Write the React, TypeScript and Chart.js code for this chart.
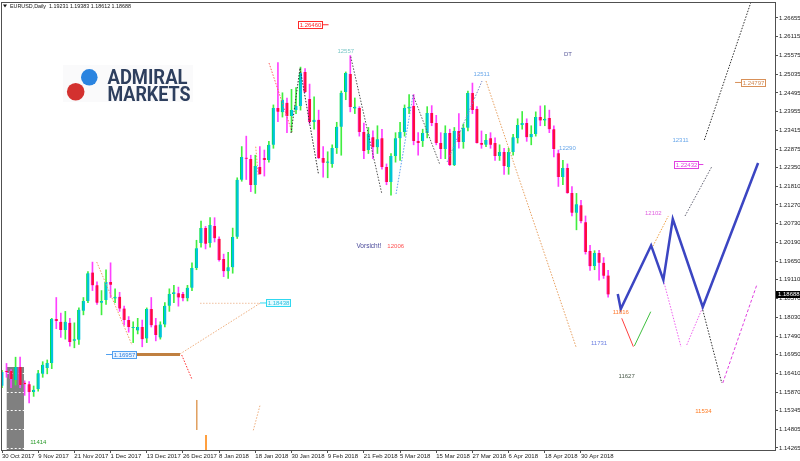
import React, { useEffect, useRef } from "react";
import { Chart, registerables } from "chart.js";

Chart.register(...registerables);

const FONT = '"Liberation Sans", Arial, sans-serif';

// ---------- axis data ----------
const dateTickIdx = [0, 8, 16, 24, 32, 40, 48, 56, 64, 72, 80, 88, 96, 104, 112, 120, 128];
const dateTickLabels = [
  "30 Oct 2017", "9 Nov 2017", "21 Nov 2017", "1 Dec 2017", "13 Dec 2017", "26 Dec 2017",
  "8 Jan 2018", "18 Jan 2018", "30 Jan 2018", "9 Feb 2018", "21 Feb 2018", "5 Mar 2018",
  "15 Mar 2018", "27 Mar 2018", "6 Apr 2018", "18 Apr 2018", "30 Apr 2018",
];
const priceTicks = [
  1.26655, 1.26115, 1.25575, 1.25035, 1.24495, 1.23955, 1.23415, 1.22875, 1.2235, 1.2181,
  1.2127, 1.2073, 1.2019, 1.1965, 1.1911, 1.1857, 1.1803, 1.1749, 1.1695, 1.1641, 1.1587,
  1.15345, 1.14805, 1.14265,
];
const priceTickLabels = [
  "1.26655", "1.26115", "1.25575", "1.25035", "1.24495", "1.23955", "1.23415", "1.22875",
  "1.22350", "1.21810", "1.21270", "1.20730", "1.20190", "1.19650", "1.19110", "1.18570",
  "1.18030", "1.17490", "1.16950", "1.16410", "1.15870", "1.15345", "1.14805", "1.14265",
];

// ---------- daily candles (30 Oct 2017 .. 8 May 2018) ----------
const openP = [
  1.1606, 1.1648, 1.1648, 1.1622, 1.1660, 1.1614, 1.1610, 1.1588, 1.1596, 1.1640,
  1.1657, 1.1671, 1.1798, 1.1790, 1.1766, 1.1787, 1.1735, 1.1738, 1.1822, 1.1850,
  1.1932, 1.1895, 1.1845, 1.1853, 1.1905, 1.1857, 1.1862, 1.1828, 1.1795, 1.1772,
  1.1765, 1.1775, 1.1742, 1.1827, 1.1780, 1.1745, 1.1782, 1.1836, 1.1870, 1.1872,
  1.1870, 1.1858, 1.1888, 1.1945, 1.2017, 1.2060, 1.2017, 1.2066, 1.2029, 1.1971,
  1.1936, 1.1947, 1.2035, 1.2199, 1.2262, 1.2259, 1.2184, 1.2236, 1.2262, 1.2256,
  1.2300, 1.2406, 1.2394, 1.2421, 1.2383, 1.2400, 1.2412, 1.2510, 1.2432, 1.2366,
  1.2372, 1.2262, 1.2248, 1.2245, 1.2291, 1.2352, 1.2452, 1.2504, 1.2405, 1.2406,
  1.2337, 1.2285, 1.2322, 1.2293, 1.2319, 1.2236, 1.2193, 1.2268, 1.2319, 1.2337,
  1.2405, 1.2412, 1.2311, 1.2311, 1.2334, 1.2392, 1.2363, 1.2305, 1.2288, 1.2334,
  1.2242, 1.2340, 1.2308, 1.2349, 1.2449, 1.2403, 1.2305, 1.2300, 1.2319, 1.2305,
  1.2268, 1.2279, 1.2236, 1.2279, 1.2319, 1.2357, 1.2363, 1.2322, 1.2331, 1.2380,
  1.2370, 1.2377, 1.2345, 1.2276, 1.2207, 1.2233, 1.2161, 1.2104, 1.2126, 1.2077,
  1.1994, 1.1951, 1.1988, 1.1960, 1.19231,
];
const highP = [
  1.1650, 1.1670, 1.1652, 1.1688, 1.1688, 1.1620, 1.1618, 1.1605, 1.1650, 1.1675,
  1.1680, 1.1800, 1.1860, 1.1815, 1.1820, 1.1800, 1.1787, 1.1830, 1.1860, 1.1935,
  1.1962, 1.1905, 1.1880, 1.1940, 1.1960, 1.1885, 1.1875, 1.1835, 1.1805, 1.1790,
  1.1800, 1.1795, 1.1830, 1.1860, 1.1800, 1.1790, 1.1845, 1.1885, 1.1895, 1.1890,
  1.1875, 1.1895, 1.1960, 1.2025, 1.2080, 1.2065, 1.2090, 1.2090, 1.2035, 1.1985,
  1.1990, 1.2060, 1.2205, 1.2295, 1.2325, 1.2270, 1.2270, 1.2295, 1.2285, 1.2310,
  1.2415, 1.2537, 1.2450, 1.2435, 1.2460, 1.2465, 1.2524, 1.2520, 1.2475, 1.2438,
  1.2400, 1.2295, 1.2280, 1.2300, 1.2365, 1.2455, 1.2510, 1.2557, 1.2435, 1.2410,
  1.2363, 1.2350, 1.2340, 1.2355, 1.2345, 1.2245, 1.2275, 1.2335, 1.2365, 1.2415,
  1.2445, 1.2445, 1.2335, 1.2345, 1.2410, 1.2413, 1.2385, 1.2335, 1.2355, 1.2345,
  1.2350, 1.2390, 1.2360, 1.2455, 1.2478, 1.2410, 1.2340, 1.2330, 1.2335, 1.2320,
  1.2300, 1.2290, 1.2290, 1.2330, 1.2375, 1.2396, 1.2375, 1.2355, 1.2395, 1.2412,
  1.2413, 1.2400, 1.2355, 1.2285, 1.2255, 1.2245, 1.2180, 1.2160, 1.2140, 1.2095,
  1.2010, 1.1995, 1.1996, 1.1975, 1.19383,
];
const lowP = [
  1.1600, 1.1630, 1.1600, 1.1608, 1.1600, 1.1578, 1.1556, 1.1575, 1.1590, 1.1630,
  1.1640, 1.1655, 1.1770, 1.1745, 1.1740, 1.1720, 1.1715, 1.1725, 1.1810, 1.1845,
  1.1880, 1.1840, 1.1810, 1.1840, 1.1860, 1.1845, 1.1820, 1.1780, 1.1760, 1.1730,
  1.1755, 1.1718, 1.1730, 1.1775, 1.1735, 1.1740, 1.1775, 1.1820, 1.1845, 1.1835,
  1.1850, 1.1850, 1.1880, 1.1940, 1.2005, 1.2000, 1.2005, 1.2020, 1.1965, 1.1920,
  1.1915, 1.1930, 1.2030, 1.2195, 1.2200, 1.2165, 1.2160, 1.2215, 1.2210, 1.2250,
  1.2290, 1.2367, 1.2380, 1.2335, 1.2337, 1.2390, 1.2400, 1.2450, 1.2360, 1.2345,
  1.2260, 1.2207, 1.2205, 1.2235, 1.2275, 1.2270, 1.2430, 1.2395, 1.2390, 1.2325,
  1.2260, 1.2275, 1.2260, 1.2275, 1.2230, 1.2185, 1.2155, 1.2250, 1.2255, 1.2325,
  1.2390, 1.2300, 1.2270, 1.2295, 1.2320, 1.2355, 1.2300, 1.2260, 1.2260, 1.2240,
  1.2240, 1.2290, 1.2290, 1.2340, 1.2390, 1.2305, 1.2290, 1.2295, 1.2290, 1.2255,
  1.2255, 1.2215, 1.2215, 1.2270, 1.2305, 1.2345, 1.2310, 1.2300, 1.2325, 1.2355,
  1.2355, 1.2335, 1.2265, 1.2180, 1.2185, 1.2160, 1.2095, 1.2055, 1.2075, 1.1985,
  1.1938, 1.1940, 1.1910, 1.1915, 1.18612,
];
const closeP = [
  1.1645, 1.1645, 1.1625, 1.1660, 1.1608, 1.1610, 1.1588, 1.1594, 1.1642, 1.1666,
  1.1671, 1.1798, 1.1792, 1.1766, 1.1790, 1.1732, 1.1740, 1.1825, 1.1850, 1.1930,
  1.1895, 1.1845, 1.1850, 1.1905, 1.1897, 1.1862, 1.1828, 1.1795, 1.1775, 1.1774,
  1.1775, 1.1740, 1.1827, 1.1780, 1.1752, 1.1782, 1.1836, 1.1870, 1.1875, 1.1860,
  1.1858, 1.1888, 1.1945, 1.2002, 1.2060, 1.2015, 1.2069, 1.2031, 1.1968, 1.1936,
  1.1947, 1.2034, 1.2199, 1.2265, 1.2260, 1.2184, 1.2239, 1.2216, 1.2256, 1.2300,
  1.2406, 1.2395, 1.2430, 1.2383, 1.2400, 1.2412, 1.2507, 1.2452, 1.2366, 1.2372,
  1.2262, 1.2248, 1.2252, 1.2291, 1.2352, 1.2450, 1.2507, 1.2409, 1.2410, 1.2337,
  1.2282, 1.2331, 1.2293, 1.2316, 1.2236, 1.2193, 1.2268, 1.2319, 1.2337, 1.2406,
  1.2410, 1.2311, 1.2305, 1.2334, 1.2392, 1.2363, 1.2305, 1.2288, 1.2334, 1.2242,
  1.2340, 1.2308, 1.2349, 1.2449, 1.2400, 1.2305, 1.2300, 1.2314, 1.2300, 1.2268,
  1.2279, 1.2239, 1.2279, 1.2322, 1.2357, 1.2363, 1.2322, 1.2331, 1.2380, 1.2370,
  1.2375, 1.2345, 1.2288, 1.2207, 1.2233, 1.2161, 1.2104, 1.2129, 1.2080, 1.1991,
  1.1950, 1.1988, 1.1960, 1.1923, 1.18688,
];

const lastPrice = 1.18688;
const titleText = "EURUSD,Daily  1.19231 1.19383 1.18612 1.18688";

// ---------- drawn objects, as [bar index, price] ----------
type Pt = [number, number];
const waveMain: Pt[] = [[136.13, 1.18701], [136.79, 1.18269], [143.5, 1.2010], [146.21, 1.19105], [148.29, 1.20862], [154.92, 1.18326], [167.15, 1.22476]];
const waveRedLeg: Pt[] = [[137.01, 1.18001], [139.58, 1.17182]];
const waveGreenLeg: Pt[] = [[139.8, 1.17203], [143.42, 1.18191]];
const orangeLeg: Pt[] = [[143.9, 1.2008], [147.31, 1.20949]];
const grayLeg: Pt[] = [[151.0, 1.20949], [156.91, 1.2237]];
const blackUpLeg: Pt[] = [[155.27, 1.23139], [166.48, 1.27462]];
const pinkV: Pt[] = [[146.21, 1.19105], [150.12, 1.17174]];
const pinkV2: Pt[] = [[151.38, 1.17232], [154.92, 1.18326]];
const blackDownLeg: Pt[] = [[154.92, 1.1824], [159.12, 1.16136]];
const pinkUpLeg: Pt[] = [[159.34, 1.16136], [166.86, 1.1896]];
const tanLongLeg: Pt[] = [[107.0, 1.24839], [126.91, 1.17174]];
const slateLeg: Pt[] = [[98.39, 1.22505], [106.12, 1.24839]];
const grayMarchLeg: Pt[] = [[90.87, 1.24436], [96.84, 1.22419]];
const blueMarchLeg: Pt[] = [[87.11, 1.21583], [90.87, 1.24436]];
const blackJanLeg: Pt[] = [[63.9, 1.23341], [65.89, 1.25214], [69.93, 1.22179]];
const grayFebLeg: Pt[] = [[77.1, 1.2554], [83.95, 1.21603]];
const redJanLeg: Pt[] = [[59.03, 1.25358], [64.12, 1.2337]];
const orangeJanTick: Pt[] = [[56.09, 1.22946], [56.67, 1.22082]];
const tanNovLeg: Pt[] = [[20.94, 1.19623], [28.74, 1.17231]];
const tanDecLeg: Pt[] = [[39.35, 1.16972], [57.04, 1.18433]];
const tanLevel: Pt[] = [[43.78, 1.18433], [57.04, 1.18433]];
const redDecLeg: Pt[] = [[39.73, 1.16943], [41.94, 1.1626]];
const orangeStem1: Pt[] = [[43.05, 1.15646], [43.05, 1.14782]];
const orangeStem2: Pt[] = [[45.1, 1.14638], [45.1, 1.142]];
const tanJanStub: Pt[] = [[55.56, 1.14773], [57.04, 1.15494]];
const brownLevel: Pt[] = [[29.78, 1.16957], [39.35, 1.16957]];
const lvl126460: Pt[] = [[70.9, 1.2646], [72.2, 1.2646]];
const lvl124797: Pt[] = [[162.06, 1.24797], [163.5, 1.24797]];
const lvl122432: Pt[] = [[153.8, 1.22432], [155.05, 1.22432]];
const lvl118438: Pt[] = [[57.04, 1.18442], [58.37, 1.18442]];
const lvl116957: Pt[] = [[23.0, 1.16957], [24.5, 1.16957]];

const noteText = ["12557", "DT", "12511", "12290", "12311", "12102", "Vorsicht!", "12006", "11816", "11731", "11627", "11534", "11414"];
const noteIdx = [75.99, 125.1, 106.05, 125.0, 150.0, 144.0, 81.1, 87.04, 136.8, 132.0, 138.1, 155.05, 8.03];
const notePrice = [1.25704, 1.25609, 1.25041, 1.229, 1.23119, 1.21027, 1.20064, 1.20064, 1.18174, 1.17281, 1.16338, 1.1531, 1.14416];

const boxText = ["1.26460", "1.24797", "1.22432", "1.18438", "1.16957"];
const boxIdx = [68.2, 166.0, 151.2, 60.95, 27.05];
const boxPrice = [1.2646, 1.24797, 1.22432, 1.18442, 1.16957];

const grayZoneIdx = [1.04, 4.86];
const grayZoneTop = 1.16597;

// ---------- styles ----------
const noteColors = ["#7cc8c8", "#5a5a9a", "#6aa8ea", "#6aa8ea", "#6aa8ea", "#e060e0", "#4a4a9a", "#ff5050", "#ff7a30", "#6a7ee0", "#4a5a4a", "#ff7a20", "#2a9a2a"];
const boxStyle = [
  { edge: "#ff2a2a", fill: "#ffffff", text: "#ff2a2a" },
  { edge: "#d89058", fill: "#ffffff", text: "#d08850" },
  { edge: "#e040e0", fill: "#ffffff", text: "#e040e0" },
  { edge: "#30d8f0", fill: "#e4fbff", text: "#30c0e0" },
  { edge: "#50a0f0", fill: "#eaf4ff", text: "#3080e0" },
];

function lineDs(pts: Pt[], color: string, width: number, dash: number[]) {
  return {
    type: "line" as const,
    data: pts.map(([x, y]) => ({ x, y })),
    borderColor: color,
    borderWidth: width,
    borderDash: dash,
    pointRadius: 0,
    fill: false,
    tension: 0,
    order: 0,
  };
}

const DOT = [1.5, 1.5];

const overlay = {
  id: "overlay",
  beforeDraw(chart: any) {
    const ctx = chart.ctx;
    ctx.save();
    ctx.fillStyle = "#ffffff";
    ctx.fillRect(0, 0, chart.width, chart.height);
    ctx.restore();
  },
  beforeDatasetsDraw(chart: any) {
    const ctx = chart.ctx;
    const xs = chart.scales.x;
    const ys = chart.scales.y;
    const area = chart.chartArea;
    ctx.save();
    // gray zone
    const gx0 = xs.getPixelForValue(grayZoneIdx[0]);
    const gx1 = xs.getPixelForValue(grayZoneIdx[1]);
    const gy0 = ys.getPixelForValue(grayZoneTop);
    ctx.fillStyle = "#808080";
    ctx.fillRect(gx0, gy0, gx1 - gx0, area.bottom - gy0);
    ctx.strokeStyle = "#ffffff";
    ctx.setLineDash([2, 2]);
    ctx.lineWidth = 1;
    priceTicks.forEach((p) => {
      const y = ys.getPixelForValue(p);
      if (y > gy0 + 4 && y < area.bottom) {
        ctx.beginPath();
        ctx.moveTo(gx0, Math.round(y) + 0.5);
        ctx.lineTo(gx1, Math.round(y) + 0.5);
        ctx.stroke();
      }
    });
    ctx.setLineDash([]);
    // logo
    ctx.fillStyle = "#fafafb";
    ctx.fillRect(63, 65, 130, 37);
    ctx.fillStyle = "#d3312f";
    ctx.beginPath();
    ctx.arc(75.7, 91.7, 8.8, 0, Math.PI * 2);
    ctx.fill();
    ctx.fillStyle = "#2a84e0";
    ctx.beginPath();
    ctx.arc(89.3, 77.3, 8.3, 0, Math.PI * 2);
    ctx.fill();
    ctx.fillStyle = "#2e3f5e";
    ctx.font = `bold 20px Roboto, ${FONT}`;
    ctx.textAlign = "left";
    ctx.textBaseline = "alphabetic";
    ctx.fillText("ADMIRAL", 107.5, 83.5, 80);
    ctx.fillText("MARKETS", 107.5, 100.5, 83);
    ctx.restore();
  },
  afterDatasetsDraw(chart: any) {
    const ctx = chart.ctx;
    const xs = chart.scales.x;
    const ys = chart.scales.y;
    ctx.save();
    ctx.textAlign = "center";
    ctx.textBaseline = "middle";
    noteText.forEach((t, k) => {
      ctx.font = t === "Vorsicht!" ? `6.5px ${FONT}` : `6px ${FONT}`;
      ctx.fillStyle = noteColors[k];
      ctx.fillText(t, xs.getPixelForValue(noteIdx[k]), ys.getPixelForValue(notePrice[k]));
    });
    ctx.font = `6px ${FONT}`;
    boxText.forEach((t, k) => {
      const cx = xs.getPixelForValue(boxIdx[k]);
      const cy = ys.getPixelForValue(boxPrice[k]);
      const w = 24;
      const h = 7;
      const bx = Math.round(cx - w / 2) + 0.5;
      const by = Math.round(cy - h / 2) + 0.5;
      ctx.fillStyle = boxStyle[k].fill;
      ctx.fillRect(bx, by, w, h);
      ctx.strokeStyle = boxStyle[k].edge;
      ctx.lineWidth = 1;
      ctx.strokeRect(bx, by, w, h);
      ctx.fillStyle = boxStyle[k].text;
      ctx.fillText(t, bx + w / 2, by + h / 2 + 0.5);
    });
    ctx.restore();
  },
  afterDraw(chart: any) {
    const ctx = chart.ctx;
    const ys = chart.scales.y;
    const area = chart.chartArea;
    ctx.save();
    ctx.strokeStyle = "#505050";
    ctx.lineWidth = 1;
    ctx.strokeRect(area.left + 0.5, area.top + 0.5, area.right - area.left, area.bottom - area.top);
    // title
    ctx.fillStyle = "#111111";
    ctx.beginPath();
    ctx.moveTo(3, 4.5);
    ctx.lineTo(7, 4.5);
    ctx.lineTo(5, 7.5);
    ctx.closePath();
    ctx.fill();
    ctx.font = `6px ${FONT}`;
    ctx.textAlign = "left";
    ctx.textBaseline = "middle";
    ctx.fillText(titleText, 10, 6, 121);
    // current price label
    const py = ys.getPixelForValue(lastPrice);
    ctx.fillStyle = "#000000";
    ctx.fillRect(area.right + 1, Math.round(py - 3.5), 25, 7);
    ctx.fillStyle = "#ffffff";
    ctx.fillText(lastPrice.toFixed(5), area.right + 3, Math.round(py - 3.5) + 3.8);
    ctx.restore();
  },
};

export default function App() {
  const ref = useRef<HTMLCanvasElement>(null);
  useEffect(() => {
    const canvas = ref.current as HTMLCanvasElement;
    const bull = closeP.map((c, i) => c >= openP[i]);
    const bodyFill = bull.map((b) => (b ? "#00c4dc" : "#ff0a40"));
    const bodyEdge = bull.map((b) => (b ? "#00e048" : "#ff30d0"));
    const wickColor = bull.map((b) => (b ? "#40ee40" : "#ff40ff"));

    const datasets: any[] = [
      lineDs(waveMain, "#3b45c2", 2.5, []),
      lineDs(waveRedLeg, "#ff4040", 1, []),
      lineDs(waveGreenLeg, "#40c040", 1, []),
      lineDs(orangeLeg, "#f0a040", 1, DOT),
      lineDs(grayLeg, "#606070", 1, DOT),
      lineDs(blackUpLeg, "#303030", 1, DOT),
      lineDs(pinkV, "#f060f0", 1, DOT),
      lineDs(pinkV2, "#f060f0", 1, DOT),
      lineDs(blackDownLeg, "#303030", 1, DOT),
      lineDs(pinkUpLeg, "#e040e0", 1, [3, 2]),
      lineDs(tanLongLeg, "#e8a060", 1, DOT),
      lineDs(slateLeg, "#7888c8", 1, DOT),
      lineDs(grayMarchLeg, "#606060", 1, DOT),
      lineDs(blueMarchLeg, "#5aa0f0", 1, DOT),
      lineDs(blackJanLeg, "#303030", 1, DOT),
      lineDs(grayFebLeg, "#505050", 1, DOT),
      lineDs(redJanLeg, "#ff6060", 1, DOT),
      lineDs(orangeJanTick, "#f0a060", 1, DOT),
      lineDs(tanNovLeg, "#f0a060", 1, DOT),
      lineDs(tanDecLeg, "#f0b080", 1, DOT),
      lineDs(tanLevel, "#f0c0a0", 1, DOT),
      lineDs(redDecLeg, "#ff3030", 1, DOT),
      lineDs(orangeStem1, "#e0a060", 1, []),
      lineDs(orangeStem2, "#ff8000", 1.5, []),
      lineDs(tanJanStub, "#f0b080", 1, DOT),
      lineDs(brownLevel, "#c08040", 3, []),
      lineDs(lvl126460, "#ff2a2a", 1, []),
      lineDs(lvl124797, "#d89058", 1, []),
      lineDs(lvl122432, "#e040e0", 1, []),
      lineDs(lvl118438, "#30d8f0", 1, []),
      lineDs(lvl116957, "#50a0f0", 1, []),
      {
        type: "bar",
        data: openP.map((o, i) => ({ x: i, y: [o, closeP[i]] })),
        backgroundColor: bodyFill,
        borderColor: bodyEdge,
        borderWidth: { left: 1, right: 0, top: 0, bottom: 0 },
        borderSkipped: false,
        barThickness: 3,
        minBarLength: 1,
        grouped: false,
        order: 2,
      },
      {
        type: "bar",
        data: openP.map((o, i) => ({ x: i, y: [lowP[i], highP[i]] })),
        backgroundColor: wickColor,
        borderWidth: 0,
        barThickness: 1,
        grouped: false,
        order: 3,
      },
    ];

    const chart = new Chart(canvas, {
      type: "bar",
      data: { datasets },
      options: {
        animation: false,
        responsive: false,
        maintainAspectRatio: false,
        events: [],
        layout: { padding: { left: 1, top: 2, right: 0, bottom: 0 } },
        plugins: { legend: { display: false }, tooltip: { enabled: false } },
        scales: {
          x: {
            type: "linear",
            min: -0.2211,
            max: 170.89,
            offset: false,
            position: "bottom",
            afterBuildTicks: (s: any) => {
              s.ticks = dateTickIdx.map((v) => ({ value: v }));
            },
            afterFit: (s: any) => {
              s.height = 11;
              s.paddingLeft = 0;
              s.paddingRight = 0;
            },
            ticks: {
              callback: (_v: any, i: number) => dateTickLabels[i],
              align: "start",
              maxRotation: 0,
              minRotation: 0,
              autoSkip: false,
              padding: 0,
              color: "#222222",
              font: { size: 6, family: FONT },
            },
            grid: { drawOnChartArea: false, offset: false, tickLength: 3, color: "#505050" },
            border: { color: "#505050" },
          },
          y: {
            type: "linear",
            position: "right",
            min: 1.14205,
            max: 1.27116,
            afterBuildTicks: (s: any) => {
              s.ticks = priceTicks.map((v) => ({ value: v }));
            },
            afterFit: (s: any) => {
              s.width = 25;
              s.paddingTop = 0;
              s.paddingBottom = 0;
            },
            ticks: {
              callback: (_v: any, i: number) => priceTickLabels[i],
              autoSkip: false,
              padding: 1,
              color: "#222222",
              font: { size: 6, family: FONT },
            },
            grid: { drawOnChartArea: false, tickLength: 3, color: "#505050" },
            border: { color: "#505050" },
          },
        },
      } as any,
      plugins: [overlay],
    });
    return () => chart.destroy();
  }, []);

  return (
    <div style={{ position: "fixed", left: 0, top: 0, width: 800, height: 461, background: "#ffffff" }}>
      <canvas ref={ref} width={800} height={461} style={{ display: "block", width: 800, height: 461 }} />
    </div>
  );
}
